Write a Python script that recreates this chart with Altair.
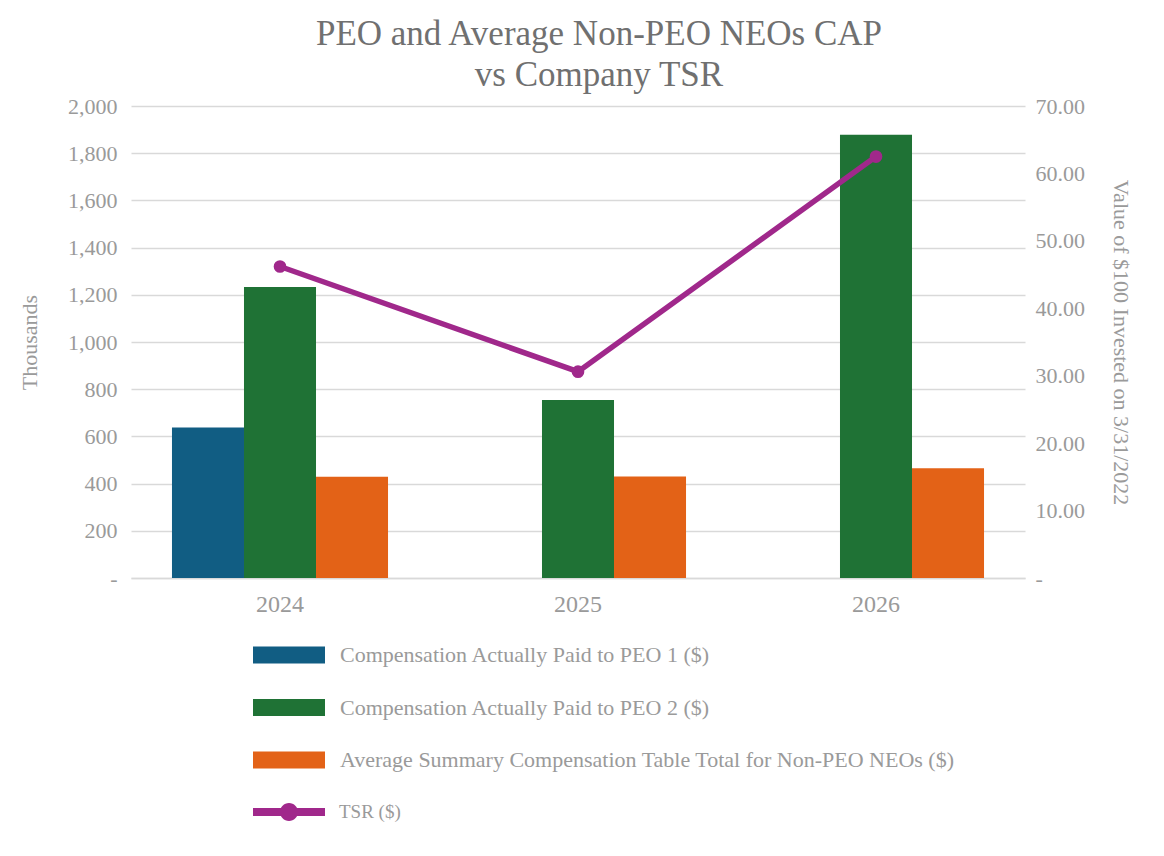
import altair as alt
import pandas as pd

years = ["2024", "2025", "2026"]
series = [
    "Compensation Actually Paid to PEO 1 ($)",
    "Compensation Actually Paid to PEO 2 ($)",
    "Average Summary Compensation Table Total for Non-PEO NEOs ($)",
]
peo1 = [638, None, None]
peo2 = [1233, 754, 1878]
non_peo = [429, 430, 465]
tsr = [46.2, 30.6, 62.5]
tsr_label = "TSR ($)"

bar_colors = ["#115D83", "#1F7235", "#E36217"]
tsr_color = "#A0288B"
FONT = "Liberation Serif"
GREY = "#9A9A9A"

rows = []
for name, vals in zip(series, [peo1, peo2, non_peo]):
    for y, v in zip(years, vals):
        rows.append({"year": y, "series": name, "value": v})
bars_df = pd.DataFrame(rows)
line_df = pd.DataFrame({"year": years, "tsr": tsr, "label": [tsr_label] * 3})

x_enc = alt.X(
    "year:N",
    title=None,
    sort=years,
    scale=alt.Scale(paddingInner=0.275, paddingOuter=0.1375),
    axis=alt.Axis(labelAngle=0, labelFontSize=24, labelColor=GREY, labelFont=FONT,
                  ticks=False, domainColor="#D9D9D9", domainWidth=1.5, labelPadding=14),
)

bars = alt.Chart(bars_df).mark_bar().encode(
    x=x_enc,
    xOffset=alt.XOffset("series:N", sort=series, scale=alt.Scale(domain=series, paddingInner=0)),
    y=alt.Y(
        "value:Q",
        scale=alt.Scale(domain=[0, 2000], nice=False),
        axis=alt.Axis(
            title="Thousands", values=list(range(0, 2001, 200)),
            labelExpr="datum.value == 0 ? '-' : format(datum.value, ',')",
            labelFontSize=22, labelColor=GREY, labelFont=FONT,
            titleFontSize=22, titleColor=GREY, titleFont=FONT, titleFontWeight="normal",
            titlePadding=26, ticks=False, domain=False, labelPadding=14,
            grid=True, gridColor="#D9D9D9", gridWidth=1.5,
        ),
    ),
    color=alt.Color(
        "series:N",
        sort=series,
        scale=alt.Scale(domain=series, range=bar_colors),
        legend=alt.Legend(
            title=None, orient="none", legendX=122, legendY=524, direction="vertical",
            symbolType="M-1,-0.236H1V0.236H-1Z", symbolSize=5184, symbolStrokeWidth=0,
            clipHeight=50, rowPadding=2.5, labelOffset=15, padding=0,
            labelFontSize=22, labelColor=GREY, labelFont=FONT, labelLimit=800,
        ),
    ),
)

y_tsr = alt.Y(
    "tsr:Q",
    scale=alt.Scale(domain=[0, 70], nice=False),
    axis=alt.Axis(
        title="Value of $100 Invested on 3/31/2022", orient="right",
        values=list(range(0, 71, 10)),
        labelExpr="datum.value == 0 ? '-' : format(datum.value, '.2f')",
        labelFontSize=22, labelColor=GREY, labelFont=FONT,
        titleFontSize=22, titleColor=GREY, titleFont=FONT, titleFontWeight="normal",
        titlePadding=24, ticks=False, domain=False, grid=False, labelPadding=10,
    ),
)

line = alt.Chart(line_df).mark_line(color=tsr_color, strokeWidth=5.5).encode(
    x=alt.X("year:N", sort=years), y=y_tsr
)
points = alt.Chart(line_df).mark_point(filled=True, size=160, opacity=1).encode(
    x=alt.X("year:N", sort=years),
    y=alt.Y("tsr:Q"),
    fill=alt.Fill(
        "label:N",
        scale=alt.Scale(domain=[tsr_label], range=[tsr_color]),
        legend=alt.Legend(
            title=None, orient="none", legendX=122, legendY=681,
            symbolType="M-1,-0.11H1V0.11H-1Z M0.25,0A0.25,0.25 0 1,1 -0.25,0A0.25,0.25 0 1,1 0.25,0Z",
            symbolSize=5184, symbolStrokeWidth=0, clipHeight=50, labelOffset=14, padding=0,
            labelFontSize=19, labelColor=GREY, labelFont=FONT,
        ),
    ),
)

chart = alt.layer(bars, alt.layer(line, points)).resolve_scale(y="independent").properties(
    width=894,
    height=472,
    background="white",
    title=alt.TitleParams(
        ["PEO and Average Non-PEO NEOs CAP", "vs Company TSR"],
        fontSize=35, font=FONT, color="#707070", fontWeight="normal",
        lineHeight=41, anchor="middle", dx=21, offset=2,
    ),
    autosize=alt.AutoSizeParams(type="none"),
    padding={"left": 123, "top": 98, "right": 130, "bottom": 262},
).configure_view(stroke=None)

chart.save("out.html", embed_options={"renderer": "svg", "actions": False})
